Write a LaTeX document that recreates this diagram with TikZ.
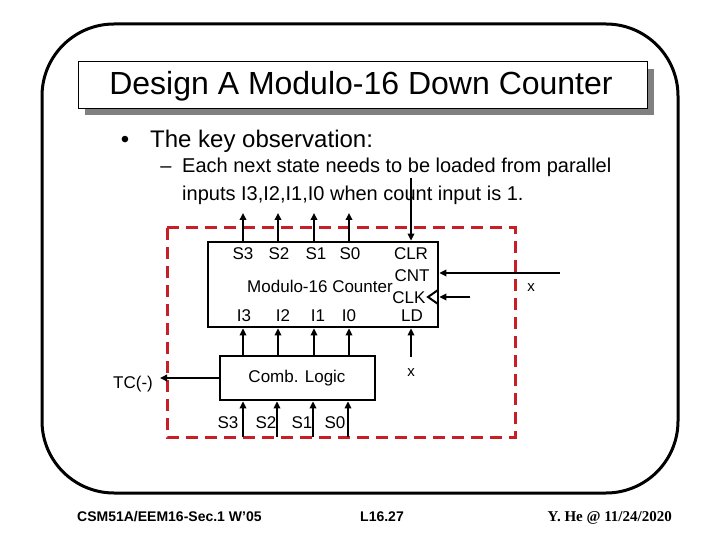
\documentclass[tikz,border=0pt]{standalone}
\usepackage{fontspec}
\setmainfont{Liberation Sans}
\newfontfamily\footserif{Liberation Serif}
\usetikzlibrary{arrows.meta}
\definecolor{dashred}{RGB}{200,30,40}
\definecolor{shadowgray}{RGB}{128,128,128}
\begin{document}
\begin{tikzpicture}[x=1pt,y=-1pt,
  lbl/.style={font=\fontsize{17}{17}\selectfont, inner sep=0pt},
  blk/.style={draw, line width=2.7pt, inner sep=0pt},
  wire/.style={line width=2pt, -{Triangle[length=7pt,width=6.5pt]}},
  redbox/.style={draw=dashred, line width=3pt, dash pattern=on 12pt off 7pt},
]
\useasboundingbox (0,0) rectangle (720,540);
% slide frame
\draw[line width=3pt, rounded corners=72pt] (42,24) rectangle (678,493);
% title
\fill[shadowgray] (85,69) rectangle (654,115);
\node[draw, fill=white, line width=1pt, minimum width=569pt, minimum height=47pt, inner sep=0pt] (titlebox) at (362.5,85.5) {};
\node[anchor=base, inner sep=0pt, font=\fontsize{32}{32}\selectfont] (titletext) at (361,95) {Design A Modulo-16 Down Counter};
% bullets
\node[anchor=base, inner sep=0pt, font=\fontsize{24}{24}\selectfont] (dot) at (125,148) {•};
\node[anchor=base west, inner sep=0pt, font=\fontsize{24}{24}\selectfont] (b1) at (150,148) {The key observation:};
\node[anchor=base, inner sep=0pt, font=\fontsize{20}{20}\selectfont] (dash1) at (166,173) {–};
\node[anchor=base west, inner sep=0pt, font=\fontsize{20}{20}\selectfont] (s1) at (182,173) {Each next state needs to be loaded from parallel};
\node[anchor=base west, inner sep=0pt, font=\fontsize{20}{20}\selectfont] (s2) at (182,201) {inputs I3,I2,I1,I0 when count input is 1.};
% dashed red region
\draw[redbox] (167,228) rectangle (515,437);
% counter block
\node[blk, minimum width=230pt, minimum height=85pt] (cnt) at (323,284.5) {};
\node[lbl] (lS3) at (243,254) {S3};
\node[lbl] (lS2) at (279,254) {S2};
\node[lbl] (lS1) at (316,254) {S1};
\node[lbl] (lS0) at (350,254) {S0};
\node[lbl] (lCLR) at (411,254) {CLR};
\node[lbl] (lCNT) at (412,276) {CNT};
\node[lbl] (lmod) at (320,286) {Modulo-16 Counter};
\node[lbl] (lCLK) at (409,298) {CLK};
\node[lbl] (lI3) at (244,316) {I3};
\node[lbl] (lI2) at (283,316) {I2};
\node[lbl] (lI1) at (318,316) {I1};
\node[lbl] (lI0) at (349,316) {I0};
\node[lbl] (lLD) at (412,316) {LD};
% clock triangle
\draw[line width=2pt] (438,290) -- (428,297) -- (438,304);
% comb logic block
\node[blk, minimum width=155pt, minimum height=44pt] (comb) at (297.5,378) {};
\node[lbl] (lcomb) at (297,378) {Comb. Logic};
% wire coordinates
\coordinate (c3) at (243,213);
\coordinate (c2) at (278,213);
\coordinate (c1) at (314,213);
\coordinate (c0) at (349,213);
\coordinate (clrtop) at (411,178);
\coordinate (ldbot) at (411,357);
\coordinate (cntin) at (560,273);
\coordinate (clkin) at (470,297);
\coordinate (tc) at (160,378);
\coordinate (b3) at (243,437);
\coordinate (b2) at (277,437);
\coordinate (b1w) at (313,437);
\coordinate (b0) at (348,437);
% outputs of counter
\draw[wire] (c3 |- cnt.north) -- (c3);
\draw[wire] (c2 |- cnt.north) -- (c2);
\draw[wire] (c1 |- cnt.north) -- (c1);
\draw[wire] (c0 |- cnt.north) -- (c0);
\draw[wire] (clrtop) -- (clrtop |- cnt.north);
% comb to counter
\draw[wire] (c3 |- comb.north) -- (c3 |- cnt.south);
\draw[wire] (c2 |- comb.north) -- (c2 |- cnt.south);
\draw[wire] (c1 |- comb.north) -- (c1 |- cnt.south);
\draw[wire] (c0 |- comb.north) -- (c0 |- cnt.south);
\draw[wire] (ldbot) -- (ldbot |- cnt.south);
\node[lbl, font=\fontsize{15}{15}\selectfont] (xld) at (411,373) {x};
\draw[wire] (cntin) -- (cntin -| cnt.east);
\node[lbl, font=\fontsize{15}{15}\selectfont] (xcnt) at (531,288) {x};
\draw[wire] (clkin) -- (clkin -| cnt.east);
% TC
\draw[wire] (comb.west) -- (tc);
\node[lbl] (ltc) at (133,384) {TC(-)};
% bottom inputs
\draw[wire] (b3) -- (b3 |- comb.south);
\draw[wire] (b2) -- (b2 |- comb.south);
\draw[wire] (b1w) -- (b1w |- comb.south);
\draw[wire] (b0) -- (b0 |- comb.south);
\node[lbl] (bS3) at (228,423) {S3};
\node[lbl] (bS2) at (266,423) {S2};
\node[lbl] (bS1) at (302,423) {S1};
\node[lbl] (bS0) at (335,423) {S0};
% footer
\node[anchor=base west, inner sep=0pt, font=\bfseries\fontsize{14}{14}\selectfont] (f1) at (77,521) {CSM51A/EEM16-Sec.1 W'05};
\node[anchor=base, inner sep=0pt, font=\bfseries\fontsize{14}{14}\selectfont] (f2) at (382,521) {L16.27};
\node[anchor=base east, inner sep=0pt, font=\footserif\bfseries\fontsize{15}{15}\selectfont] (f3) at (672,521) {Y. He @ 11/24/2020};
\end{tikzpicture}
\end{document}
